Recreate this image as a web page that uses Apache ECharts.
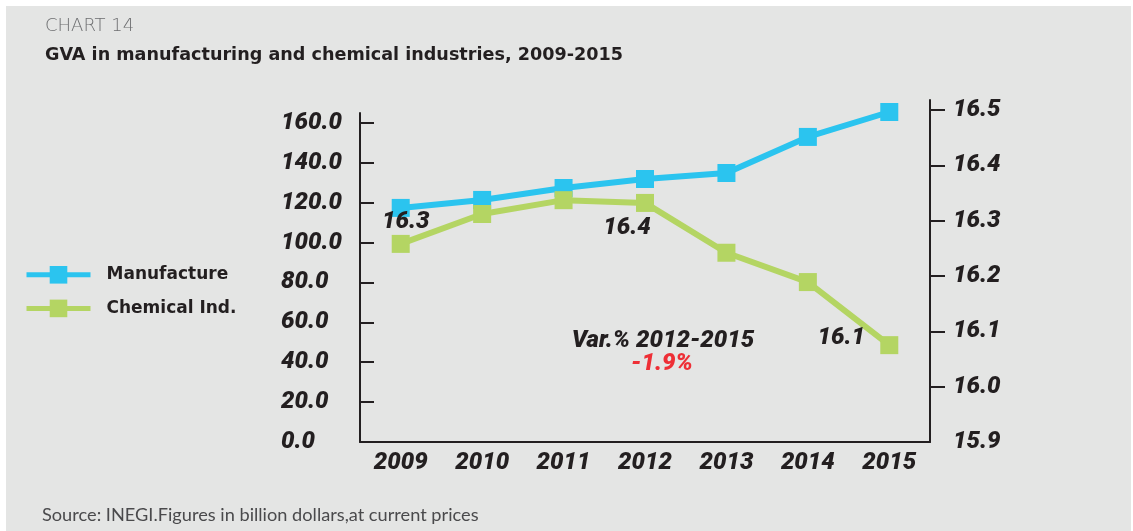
<!DOCTYPE html>
<html>
<head>
<meta charset="utf-8">
<script src="https://cdn.jsdelivr.net/npm/echarts@6/dist/echarts.min.js"></script>
<style>
  html, body { margin: 0; padding: 0; background: #fff; }
  #chart { width: 1133px; height: 531px; }
</style>
</head>
<body>
<div id="chart"></div>
<script>
const years = ['2009', '2010', '2011', '2012', '2013', '2014', '2015']
const manufacture = [117.4, 121.4, 127.4, 131.9, 134.9, 153.0, 165.5]
const chemical = [16.258, 16.312, 16.337, 16.332, 16.242, 16.189, 16.075]
const chemicalLabels = ['16.3', '', '', '16.4', '', '', '16.1']
const leftTicks = [0, 20, 40, 60, 80, 100, 120, 140, 160]
const rightTicks = [15.9, 16.0, 16.1, 16.2, 16.3, 16.4, 16.5]

const ink = '#231f20'
const numFont = {
  color: ink,
  fontFamily: 'Roboto',
  fontWeight: 900,
  fontStyle: 'italic',
  fontSize: 24
}

// label offsets per point, only the labelled ones
const labelOffsets = [[5, -22], null, null, [-18, 25], null, null, [-48, -7]]

const chart = echarts.init(document.getElementById('chart'))

chart.setOption({
  backgroundColor: '#fff',
  animation: false,
  graphic: [{
    type: 'rect',
    z: -100,
    silent: true,
    shape: { x: 6, y: 6, width: 1125, height: 525 },
    style: { fill: '#e4e5e4' }
  }],
  title: [{
    text: 'CHART 14',
    left: 40,
    top: 12,
    textStyle: { color: '#6d6e70', fontFamily: 'DejaVu Sans', fontWeight: 200, fontSize: 18 }
  }, {
    text: 'GVA in manufacturing and chemical industries, 2009-2015',
    left: 40,
    top: 41,
    textStyle: { color: ink, fontFamily: 'DejaVu Sans', fontWeight: 'bold', fontSize: 17.6 }
  }, {
    text: 'Source: INEGI.Figures in billion dollars,at current prices',
    left: 37,
    top: 501,
    textStyle: { color: '#4a4a4c', fontFamily: 'Lato', fontWeight: 'normal', fontSize: 18.2 }
  }, {
    text: 'Var.% 2012-2015',
    left: 658,
    top: 324,
    textAlign: 'center',
    textStyle: numFont
  }, {
    text: '-1.9%',
    left: 657,
    top: 347,
    textAlign: 'center',
    textStyle: Object.assign({}, numFont, { color: '#ee2f36' })
  }],
  legend: {
    orient: 'vertical',
    left: 19,
    top: 261,
    itemWidth: 64,
    itemHeight: 22,
    itemGap: 16,
    lineStyle: { width: 5 },
    textStyle: {
      color: ink,
      fontFamily: 'DejaVu Sans',
      fontWeight: 'bold',
      fontSize: 17,
      padding: [0, 0, 0, 11]
    },
    data: ['Manufacture', 'Chemical Ind.']
  },
  grid: [
    { left: 360, right: 203, top: 113, bottom: 89 },
    { left: 360, right: 203, top: 100, bottom: 89 }
  ],
  xAxis: [{
    type: 'category',
    gridIndex: 0,
    data: years,
    boundaryGap: true,
    axisLine: { lineStyle: { color: ink, width: 2 } },
    axisTick: { show: false },
    axisLabel: Object.assign({ margin: 9, interval: 0 }, numFont)
  }, {
    type: 'category',
    gridIndex: 1,
    data: years,
    boundaryGap: true,
    show: false
  }],
  yAxis: [{
    type: 'value',
    gridIndex: 0,
    position: 'left',
    min: 0,
    max: 165,
    splitLine: { show: false },
    axisLine: { show: true, lineStyle: { color: ink, width: 2 } },
    axisTick: {
      show: true,
      inside: true,
      length: 14,
      customValues: leftTicks.slice(1),
      lineStyle: { color: ink, width: 2 }
    },
    axisLabel: Object.assign({
      align: 'left',
      margin: 79,
      customValues: leftTicks,
      formatter: v => v.toFixed(1)
    }, numFont)
  }, {
    type: 'value',
    gridIndex: 1,
    position: 'right',
    min: 15.9,
    max: 16.518,
    splitLine: { show: false },
    axisLine: { show: true, lineStyle: { color: ink, width: 2 } },
    axisTick: {
      show: true,
      length: 15,
      customValues: rightTicks.slice(1),
      lineStyle: { color: ink, width: 2 }
    },
    axisLabel: Object.assign({
      align: 'left',
      margin: 23,
      customValues: rightTicks,
      formatter: v => v.toFixed(1)
    }, numFont)
  }],
  series: [{
    name: 'Manufacture',
    type: 'line',
    xAxisIndex: 0,
    yAxisIndex: 0,
    data: manufacture,
    clip: false,
    symbol: 'rect',
    symbolSize: 18,
    color: '#2bc4ef',
    lineStyle: { width: 6, color: '#2bc4ef' },
    itemStyle: { color: '#2bc4ef' }
  }, {
    name: 'Chemical Ind.',
    type: 'line',
    xAxisIndex: 1,
    yAxisIndex: 1,
    clip: false,
    symbol: 'rect',
    symbolSize: 18,
    color: '#b4d563',
    lineStyle: { width: 6, color: '#b4d563' },
    itemStyle: { color: '#b4d563' },
    data: chemical.map((v, i) => {
      if (!chemicalLabels[i]) return v
      return {
        value: v,
        label: {
          show: true,
          position: 'inside',
          offset: labelOffsets[i],
          formatter: chemicalLabels[i],
          ...numFont
        }
      }
    })
  }]
})
</script>
</body>
</html>
